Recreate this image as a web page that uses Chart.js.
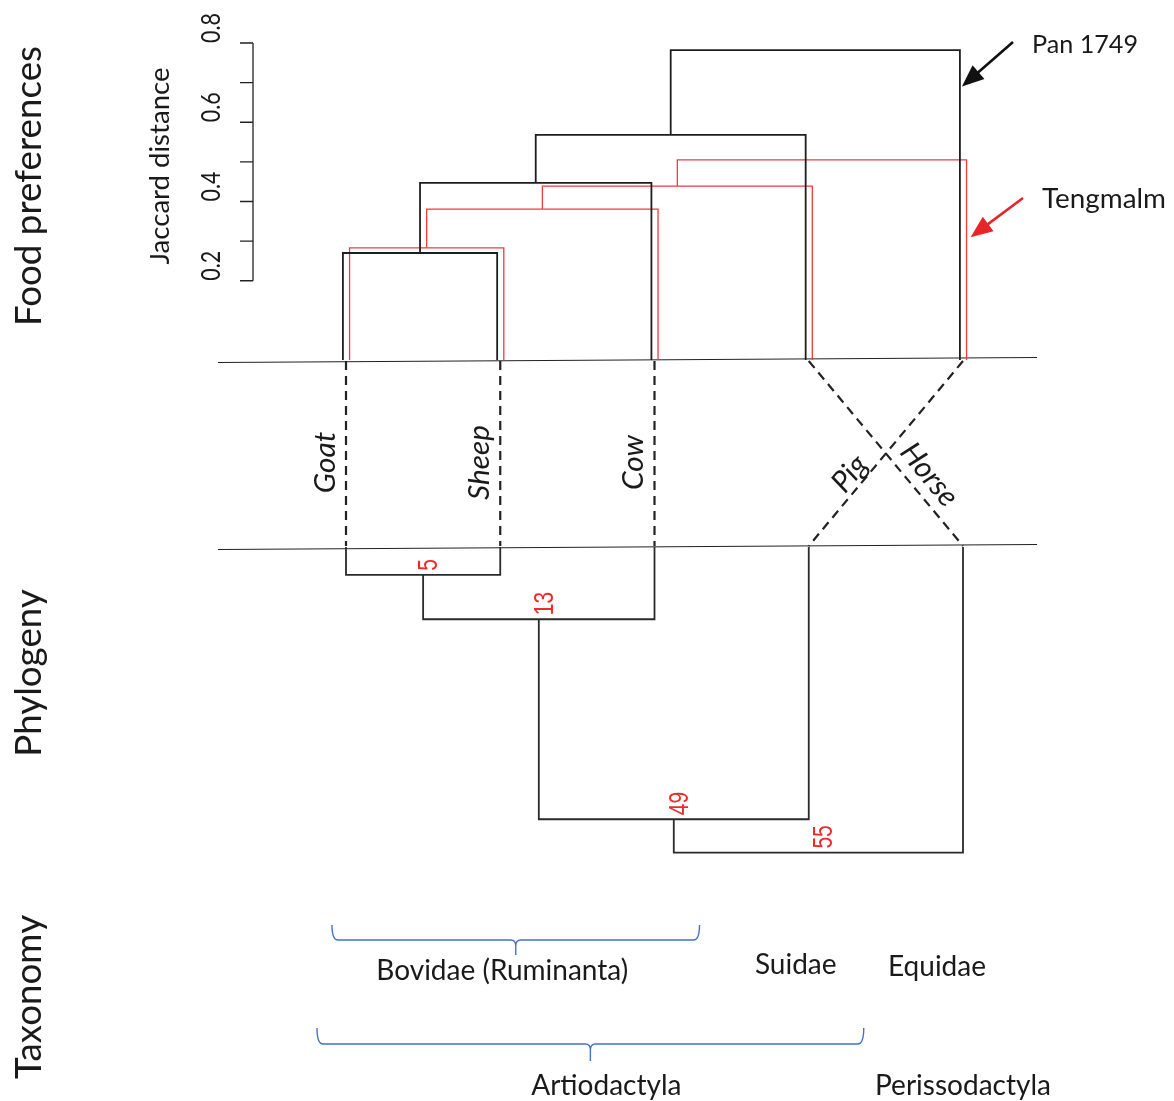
<!DOCTYPE html>
<html><head><meta charset="utf-8">
<script src="https://cdn.jsdelivr.net/npm/chart.js@4/dist/chart.umd.min.js"></script>
<style>html,body{margin:0;padding:0;background:#fff;}</style>
</head><body>
<canvas id="c" width="1174" height="1101"></canvas>
<script>
// ---------------- data ----------------
const foodOrder = ['Goat', 'Sheep', 'Cow', 'Horse', 'Pig'];      // leaf order in the food dendrograms
const phyloOrder = ['Goat', 'Sheep', 'Cow', 'Pig', 'Horse'];     // leaf order in the phylogeny
const panMergeDistance = [0.27, 0.447, 0.568, 0.782];            // Pan 1749 (black), Jaccard distance
const tengmalmMergeDistance = [0.283, 0.381, 0.439, 0.505];      // Tengmalm (red), Jaccard distance
const divergenceMya = [5, 13, 49, 55];                           // phylogeny node ages
const jaccardTicks = [0.2, 0.3, 0.4, 0.5, 0.6, 0.7, 0.8];
const jaccardTickLabels = ['0.2', '0.4', '0.6', '0.8'];
const sectionTitles = ['Food preferences', 'Phylogeny', 'Taxonomy'];
const treeNames = ['Pan 1749', 'Tengmalm'];
const familyLabels = ['Bovidae (Ruminanta)', 'Suidae', 'Equidae'];
const orderLabels = ['Artiodactyla', 'Perissodactyla'];

// ---------------- build segments ----------------
function buildTree(heights, offset) {
  const segs = [];
  let cx = offset, ch = 0;
  heights.forEach((h, i) => {
    const rx = i + 1 + offset;
    segs.push([{x: cx, y: ch}, {x: cx, y: h}, {x: rx, y: h}, {x: rx, y: 0}]);
    cx = (cx + rx) / 2; ch = h;
  });
  return segs;
}
function toDatasets(segs, axis, color, width) {
  return segs.map(s => ({data: s, showLine: true, borderColor: color, borderWidth: width,
    pointRadius: 0, fill: false, tension: 0, yAxisID: axis, xAxisID: 'x'}));
}
const datasets = [
  ...toDatasets(buildTree(panMergeDistance, -0.02), 'yJ', '#1e1e1e', 1.8),
  ...toDatasets(buildTree(tengmalmMergeDistance, 0.023), 'yJ', '#f03c3c', 1.3),
  ...toDatasets(buildTree(divergenceMya, 0), 'yT', '#2a2a2a', 1.8)
];

const FONT = 'Lato, "Open Sans", sans-serif';
const NUMFONT = '"Liberation Sans", Arial, sans-serif';
function fitSize(ctx, text, target, style, family) {
  ctx.font = style + ' 100px ' + family;
  return 100 * target / ctx.measureText(text).width;
}
function txt(ctx, text, x, y, ang, size, style, family, color, align, base, sy) {
  ctx.save();
  ctx.translate(x, y); ctx.rotate(ang);
  if (sy) ctx.scale(1, sy);
  ctx.font = style + ' ' + size.toFixed(2) + 'px ' + family;
  ctx.fillStyle = color; ctx.textAlign = align || 'center'; ctx.textBaseline = base || 'middle';
  ctx.fillText(text, 0, 0);
  ctx.restore();
}
function brace(ctx, x0, x1, y, h, s) {
  const xc = (x0 + x1) / 2;
  ctx.beginPath();
  ctx.moveTo(x0, y - h);
  ctx.quadraticCurveTo(x0, y, x0 + 6, y);
  ctx.lineTo(xc - 5, y);
  ctx.quadraticCurveTo(xc, y, xc, y + 6);
  ctx.lineTo(xc, y + s);
  ctx.moveTo(xc, y + 6);
  ctx.quadraticCurveTo(xc, y, xc + 5, y);
  ctx.lineTo(x1 - 6, y);
  ctx.quadraticCurveTo(x1, y, x1, y - h);
  ctx.stroke();
}
function arrow(ctx, x0, y0, x1, y1, color) {
  const a = Math.atan2(y1 - y0, x1 - x0), L = 22, W = 9;
  ctx.save();
  ctx.strokeStyle = color; ctx.fillStyle = color; ctx.lineWidth = 2.6;
  ctx.beginPath(); ctx.moveTo(x0, y0);
  ctx.lineTo(x1 - Math.cos(a) * L * 0.8, y1 - Math.sin(a) * L * 0.8); ctx.stroke();
  ctx.beginPath(); ctx.moveTo(x1, y1);
  ctx.lineTo(x1 - Math.cos(a) * L + Math.sin(a) * W, y1 - Math.sin(a) * L - Math.cos(a) * W);
  ctx.lineTo(x1 - Math.cos(a) * L - Math.sin(a) * W, y1 - Math.sin(a) * L + Math.cos(a) * W);
  ctx.closePath(); ctx.fill();
  ctx.restore();
}

const overlay = {
  id: 'overlay',
  beforeDatasetsDraw(chart) {
    const ctx = chart.ctx, xs = chart.scales.x, yJ = chart.scales.yJ, yT = chart.scales.yT;
    const top0 = yJ.getPixelForValue(0), bot0 = yT.getPixelForValue(0);
    const xl = xs.getPixelForValue(-0.83), xr = xs.getPixelForValue(4.48);
    ctx.save();
    ctx.strokeStyle = '#222'; ctx.lineWidth = 1.2;
    ctx.beginPath(); ctx.moveTo(xl, top0 + 2.5); ctx.lineTo(xr, top0 - 2.5); ctx.stroke();
    ctx.beginPath(); ctx.moveTo(xl, bot0 + 2.5); ctx.lineTo(xr, bot0 - 2.5); ctx.stroke();
    // dashed connectors food -> phylogeny
    ctx.setLineDash([9, 6]); ctx.lineWidth = 2.2; ctx.strokeStyle = '#222';
    phyloOrder.forEach((name, j) => {
      const i = foodOrder.indexOf(name);
      ctx.beginPath();
      ctx.moveTo(xs.getPixelForValue(i), top0 + 1);
      ctx.lineTo(xs.getPixelForValue(j), bot0 - 1);
      ctx.stroke();
    });
    ctx.restore();
  },
  afterDatasetsDraw(chart) {
    const ctx = chart.ctx, xs = chart.scales.x, yJ = chart.scales.yJ, yT = chart.scales.yT;
    const top0 = yJ.getPixelForValue(0), bot0 = yT.getPixelForValue(0);
    const ink = '#1a1a1a';
    ctx.save();
    // Jaccard axis
    const ax = 253;
    ctx.strokeStyle = '#222'; ctx.lineWidth = 1.3;
    ctx.beginPath();
    ctx.moveTo(ax, yJ.getPixelForValue(jaccardTicks[0]));
    ctx.lineTo(ax, yJ.getPixelForValue(jaccardTicks[jaccardTicks.length - 1]));
    jaccardTicks.forEach(v => { const y = yJ.getPixelForValue(v); ctx.moveTo(ax - 13, y); ctx.lineTo(ax, y); });
    ctx.stroke();
    const tks = fitSize(ctx, '0.8', 30, 'normal', FONT);
    const tsy = 20 / (0.72 * tks);
    jaccardTickLabels.forEach(l => txt(ctx, l, 220, yJ.getPixelForValue(parseFloat(l)), -Math.PI / 2, tks, 'normal', FONT, ink, 'left', 'alphabetic', tsy));
    txt(ctx, 'Jaccard distance', 160, 166, -Math.PI / 2, fitSize(ctx, 'Jaccard distance', 197, 'normal', FONT), 'normal', FONT, ink);
    // section titles
    const ts = fitSize(ctx, sectionTitles[0], 280, 'normal', FONT);
    txt(ctx, sectionTitles[0], 29, 186, -Math.PI / 2, ts, 'normal', FONT, ink);
    txt(ctx, sectionTitles[1], 29, 673, -Math.PI / 2, ts, 'normal', FONT, ink);
    txt(ctx, sectionTitles[2], 29, 997, -Math.PI / 2, ts, 'normal', FONT, ink);
    // leaf labels
    const ls = fitSize(ctx, 'Sheep', 75, 'italic', FONT);
    phyloOrder.forEach((name, j) => {
      const i = foodOrder.indexOf(name);
      const xa = xs.getPixelForValue(i), xb = xs.getPixelForValue(j);
      if (i === j) {
        txt(ctx, name, xa - 21, (top0 + bot0) / 2 + 9, -Math.PI / 2, ls, 'italic', FONT, ink);
      } else if (xb < xa) { // Pig: bottom-left to top-right
        const dx = xa - xb, dy = top0 - bot0, len = Math.hypot(dx, dy);
        const ux = dx / len, uy = dy / len, t = 0.34 * len;
        const px = xb + ux * t - 0.77 * 15, py = bot0 + uy * t - 0.64 * 15;
        txt(ctx, name, px, py, Math.atan2(dy, dx), ls, 'italic', FONT, ink);
      } else { // Horse: top-left to bottom-right
        const dx = xb - xa, dy = bot0 - top0, len = Math.hypot(dx, dy);
        const ux = dx / len, uy = dy / len, t = 0.68 * len;
        const px = xa + ux * t + 0.78 * 20, py = top0 + uy * t - 0.63 * 20;
        txt(ctx, name, px, py, Math.atan2(dy, dx), ls, 'italic', FONT, ink);
      }
    });
    // divergence numbers
    let cx = 0;
    const nsz = 21, nsy = 20 / (0.716 * nsz);
    divergenceMya.forEach((t, i) => {
      const rx = i + 1;
      const mid = xs.getPixelForValue((cx + rx) / 2);
      txt(ctx, String(t), mid + 14, yT.getPixelForValue(t) - 4, -Math.PI / 2, nsz, 'normal', NUMFONT, '#ee2a2a', 'left', 'alphabetic', nsy);
      cx = (cx + rx) / 2;
    });
    // arrows + tree names
    arrow(ctx, 1013, 42, xs.getPixelForValue(4 - 0.02) + 2, yJ.getPixelForValue(0.69), '#111');
    arrow(ctx, 1023, 198, xs.getPixelForValue(4 + 0.023) + 4, yJ.getPixelForValue(0.31), '#e8262a');
    txt(ctx, treeNames[0], 1032, 45, 0, fitSize(ctx, treeNames[0], 106, 'normal', FONT), 'normal', FONT, ink, 'left');
    txt(ctx, treeNames[1], 1042, 199, 0, fitSize(ctx, treeNames[1], 124, 'normal', FONT), 'normal', FONT, ink, 'left');
    // taxonomy
    ctx.strokeStyle = '#4472c4'; ctx.lineWidth = 1.4;
    brace(ctx, xs.getPixelForValue(0) - 14, xs.getPixelForValue(2) + 45, 940, 15, 15);
    brace(ctx, xs.getPixelForValue(0) - 29, xs.getPixelForValue(3) + 55, 1044, 16, 17);
    const fs = fitSize(ctx, familyLabels[0], 252, 'normal', FONT);
    txt(ctx, familyLabels[0], xs.getPixelForValue(1) + 2, 971, 0, fs, 'normal', FONT, ink);
    txt(ctx, familyLabels[1], xs.getPixelForValue(3) - 13, 965, 0, fs, 'normal', FONT, ink);
    txt(ctx, familyLabels[2], xs.getPixelForValue(4) - 26, 967, 0, fs, 'normal', FONT, ink);
    txt(ctx, orderLabels[0], xs.getPixelForValue(1.5) + 29, 1086, 0, fs, 'normal', FONT, ink);
    txt(ctx, orderLabels[1], xs.getPixelForValue(4), 1086, 0, fs, 'normal', FONT, ink);
    ctx.restore();
  }
};

new Chart(document.getElementById('c'), {
  type: 'scatter',
  data: {datasets},
  options: {
    responsive: false, animation: false, devicePixelRatio: 1, events: [],
    layout: {padding: 0},
    plugins: {legend: {display: false}, tooltip: {enabled: false}},
    scales: {
      x: {type: 'linear', display: false, min: -2.2431, max: 5.3679},
      yJ: {type: 'linear', display: false, min: -1.87003, max: 0.90852},
      yT: {type: 'linear', display: false, reverse: true, min: -98.452, max: 99.712}
    }
  },
  plugins: [overlay]
});
</script>
</body></html>
